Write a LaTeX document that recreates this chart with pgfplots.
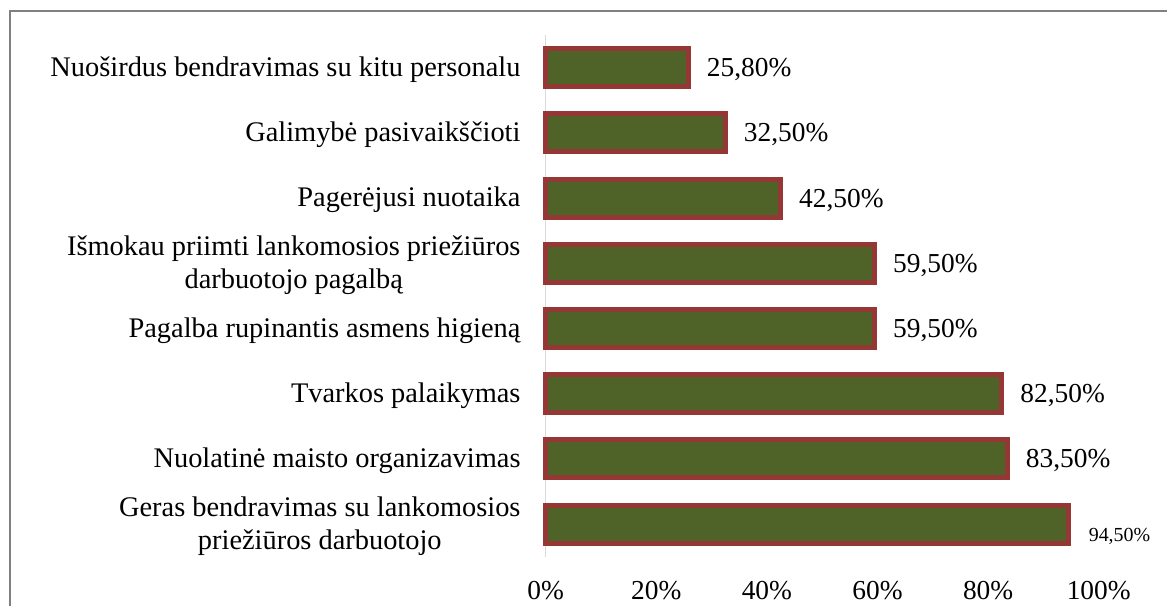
\documentclass[border=0pt]{standalone}
\usepackage{pgfplots}
\pgfplotsset{compat=1.18}
\usepackage{pgfplotstable}
\usepackage{fontspec}
\setmainfont{Liberation Serif}
\definecolor{barfill}{HTML}{4F6228}
\definecolor{barline}{HTML}{953735}
\definecolor{axline}{HTML}{D9D9D9}
\definecolor{framec}{HTML}{808080}

\pgfplotstableread{
i v lab
1 83.5 83,50
2 82.5 82,50
3 59.5 59,50
4 59.5 59,50
5 42.5 42,50
6 32.5 32,50
7 25.8 25,80
}\dataA
\pgfplotstableread{
i v lab
0 94.5 94,50
}\dataB

\begin{document}
\begin{tikzpicture}[x=1bp,y=1bp]
\path[use as bounding box] (0,0) rectangle (1167,606);
\draw[framec, line width=2bp] (10,-5) -- (10,595) -- (1175,595);
\begin{axis}[
  at={(545.7bp,49.3bp)}, anchor=south west,
  scale only axis, width=553bp, height=521.7bp,
  xmin=0, xmax=100, ymin=-0.5, ymax=7.5,
  clip=false,
  xbar, bar width=38bp, bar shift=0pt,
  axis y line*=left, axis x line*=bottom,
  x axis line style={draw=none},
  y axis line style={draw=axline, line width=1.5bp, -},
  major tick length=0pt,
  xtick={0,20,...,100},
  xticklabels={0\%,20\%,40\%,60\%,80\%,100\%},
  xticklabel style={anchor=base, yshift=-43bp, inner sep=0pt, font=\fontsize{27.5}{32}\selectfont},
  ytick={0,...,7},
  yticklabels={{Geras bendravimas su lankomosios\\priežiūros darbuotojo},
    {Nuolatinė maisto organizavimas},
    {Tvarkos palaikymas},
    {Pagalba rupinantis asmens higieną},
    {Išmokau priimti lankomosios priežiūros\\darbuotojo pagalbą},
    {Pagerėjusi nuotaika},
    {Galimybė pasivaikščioti},
    {Nuoširdus bendravimas su kitu personalu}},
  yticklabel style={anchor=east, inner sep=0pt, xshift=-25bp, yshift=-2bp, align=center, font=\fontsize{28.5}{32.5}\selectfont},
  point meta=explicit symbolic,
  nodes near coords={\pgfplotspointmeta\%},
]
\addplot[fill=barfill, draw=barline, line width=5bp,
  nodes near coords style={font=\fontsize{27.5}{32}\selectfont, anchor=west, inner sep=0pt, xshift=16bp, yshift=-2bp, text=black}]
  table[x=v, y=i, meta=lab] {\dataA};
\addplot[fill=barfill, draw=barline, line width=5bp,
  nodes near coords style={font=\fontsize{20}{24}\selectfont, anchor=west, inner sep=0pt, xshift=18bp, yshift=-12bp, text=black}]
  table[x=v, y=i, meta=lab] {\dataB};
\end{axis}
\end{tikzpicture}
\end{document}
